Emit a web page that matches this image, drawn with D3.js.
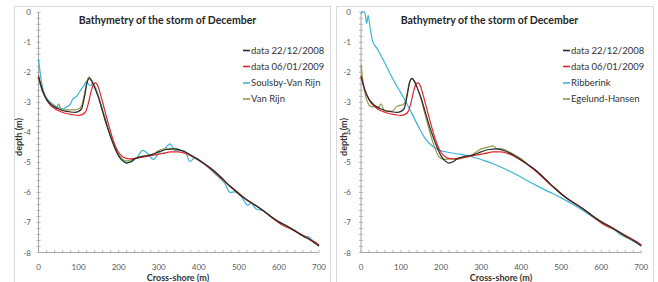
<!DOCTYPE html>
<html>
<head>
<meta charset="utf-8">
<script src="https://cdn.jsdelivr.net/npm/d3@7"></script>
<style>
  body { margin: 0; background: #fff; }
  svg { display: block; font-family: Lato, "Open Sans", sans-serif; }
</style>
</head>
<body>
<svg id="chart" width="658" height="282"></svg>
<script>
// ---- data (cross-shore distance in m, depth in m) ----
var data2212X = [0,10,20,30,40,50,60,70,80,90,100,108,115,122,127,133,140,150,160,170,180,190,200,210,220,230,240,260,280,300,320,340,360,380,400,420,440,460,480,500,520,540,560,580,600,620,640,660,680,700];
var data2212Y = [-2.15,-2.6,-2.9,-3.05,-3.15,-3.22,-3.27,-3.3,-3.32,-3.33,-3.3,-3.2,-2.8,-2.3,-2.2,-2.3,-2.5,-2.85,-3.3,-3.75,-4.15,-4.5,-4.78,-4.95,-5.02,-4.98,-4.88,-4.8,-4.75,-4.65,-4.57,-4.55,-4.62,-4.75,-4.92,-5.1,-5.3,-5.55,-5.82,-6.05,-6.25,-6.42,-6.6,-6.8,-6.98,-7.12,-7.28,-7.45,-7.6,-7.78];

var data0601X = [0,10,20,30,40,50,60,70,80,90,100,110,118,125,132,138,143,148,155,165,175,185,195,205,215,230,250,270,290,310,330,350,370,390,410,430,450,470,490,510,530,550,570,590,610,630,650,670,690,700];
var data0601Y = [-2.1,-2.6,-2.9,-3.1,-3.2,-3.28,-3.33,-3.37,-3.4,-3.42,-3.43,-3.4,-3.3,-3.0,-2.6,-2.38,-2.35,-2.45,-2.75,-3.25,-3.75,-4.2,-4.55,-4.75,-4.85,-4.88,-4.85,-4.8,-4.75,-4.7,-4.65,-4.65,-4.72,-4.85,-5.02,-5.22,-5.45,-5.7,-5.92,-6.15,-6.33,-6.5,-6.7,-6.92,-7.1,-7.22,-7.35,-7.5,-7.65,-7.75];

var soulsbyX = [0,5,10,20,30,40,50,60,70,80,85,95,105,115,120,125,130,135,140,150,160,170,180,190,200,210,220,232,245,260,272,286,300,315,328,340,355,365,378,390,410,430,450,465,478,490,505,523,530,544,560,580,600,620,640,660,673,685,700];
var soulsbyY = [-1.55,-2.1,-2.5,-2.85,-3.0,-3.1,-3.18,-3.22,-3.15,-3.05,-2.9,-2.8,-2.6,-2.4,-2.3,-2.4,-2.45,-2.35,-2.45,-2.8,-3.25,-3.7,-4.1,-4.45,-4.75,-4.92,-5.0,-4.98,-4.85,-4.6,-4.7,-4.9,-4.7,-4.55,-4.38,-4.6,-4.6,-4.62,-4.97,-4.85,-5.0,-5.25,-5.5,-5.7,-6.0,-5.98,-6.12,-6.43,-6.35,-6.56,-6.6,-6.8,-6.98,-7.12,-7.28,-7.45,-7.47,-7.62,-7.78];

var vanRijnX = [0,10,20,30,40,45,50,55,60,70,80,90,100,108,115,122,126,132,140,150,160,170,180,190,200,210,220,230,245,260,280,290,300,315,330,345,360,380,400,420,440,460,480,500,520,540,560,580,600,620,640,660,680,700];
var vanRijnY = [-2.2,-2.65,-2.9,-3.05,-3.15,-3.2,-3.05,-3.2,-3.25,-3.25,-3.25,-3.25,-3.22,-3.1,-2.7,-2.25,-2.15,-2.25,-2.5,-2.85,-3.3,-3.75,-4.15,-4.5,-4.75,-4.9,-4.95,-4.92,-4.85,-4.8,-4.75,-4.7,-4.6,-4.55,-4.55,-4.55,-4.62,-4.78,-4.92,-5.1,-5.32,-5.57,-5.82,-6.02,-6.25,-6.42,-6.6,-6.8,-6.98,-7.12,-7.28,-7.45,-7.6,-7.78];

var ribberinkX = [0,3,8,11,14,18,22,30,40,47,60,72,85,100,114,130,145,160,175,192,220,250,280,310,334,360,390,417,440,470,500,530,560,583,610,630,650,670,690,700];
var ribberinkY = [-0.05,0.02,0.0,-0.1,-0.37,-0.1,-0.45,-1.0,-1.2,-1.37,-1.7,-2.03,-2.35,-2.7,-3.03,-3.45,-3.85,-4.2,-4.42,-4.57,-4.67,-4.73,-4.82,-4.95,-5.07,-5.22,-5.42,-5.62,-5.78,-5.98,-6.18,-6.4,-6.65,-6.85,-7.07,-7.22,-7.42,-7.55,-7.7,-7.78];

var egelundX = [0,5,10,15,20,28,35,42,50,57,64,72,80,88,97,105,112,118,124,128,134,140,150,160,170,180,190,198,210,225,240,255,270,285,300,315,330,340,352,365,380,400,420,440,460,480,500,520,540,560,580,600,620,640,660,680,700];
var egelundY = [-1.75,-2.3,-2.7,-2.95,-3.08,-3.15,-3.12,-3.2,-3.05,-3.25,-3.3,-3.3,-3.28,-3.15,-3.1,-3.08,-2.9,-2.5,-2.25,-2.2,-2.3,-2.5,-2.9,-3.4,-3.9,-4.35,-4.7,-4.85,-4.9,-4.88,-4.9,-4.85,-4.8,-4.68,-4.55,-4.5,-4.45,-4.55,-4.55,-4.62,-4.72,-4.88,-5.1,-5.3,-5.55,-5.8,-6.05,-6.25,-6.42,-6.6,-6.78,-6.97,-7.12,-7.28,-7.47,-7.6,-7.78];

var xTicks = [0,100,200,300,400,500,600,700];
var yTicks = [0,-1,-2,-3,-4,-5,-6,-7,-8];

var colBlack = "#2a2a2a", colRed = "#e0262c", colCyan = "#3bb5d9", colOlive = "#8f9a4a";

function zipXY(xs, ys) { return xs.map(function(x, i) { return [x, ys[i]]; }); }

var panels = [
  { box: [14.5, 6.5, 316], plot: [38.5, 319], titleX: 167.5, xLabX: 178, yLabX: 19, legX: 243, labEnd: 31,
    series: [
      { name: "data 22/12/2008", pts: zipXY(data2212X, data2212Y), color: colBlack },
      { name: "data 06/01/2009", pts: zipXY(data0601X, data0601Y), color: colRed },
      { name: "Soulsby-Van Rijn", pts: zipXY(soulsbyX, soulsbyY), color: colCyan },
      { name: "Van Rijn", pts: zipXY(vanRijnX, vanRijnY), color: colOlive }
    ] },
  { box: [336.5, 6.5, 317], plot: [361, 641.3], titleX: 489.5, xLabX: 501, yLabX: 343.5, legX: 563, labEnd: 351,
    series: [
      { name: "data 22/12/2008", pts: zipXY(data2212X, data2212Y), color: colBlack },
      { name: "data 06/01/2009", pts: zipXY(data0601X, data0601Y), color: colRed },
      { name: "Ribberink", pts: zipXY(ribberinkX, ribberinkY), color: colCyan },
      { name: "Egelund-Hansen", pts: zipXY(egelundX, egelundY), color: colOlive }
    ] }
];

var svg = d3.select("#chart");
var legendRows = [50.5, 66.5, 83, 99];

panels.forEach(function(p) {
  var g = svg.append("g");

  // frame (no bottom edge visible in the picture)
  g.append("rect")
    .attr("x", p.box[0]).attr("y", p.box[1])
    .attr("width", p.box[2]).attr("height", 300)
    .attr("fill", "none").attr("stroke", "#d9d9d9").attr("stroke-width", 1);

  var x = d3.scaleLinear().domain([0, 700]).range(p.plot);
  var y = d3.scaleLinear().domain([0, -8]).range([12.3, 252.5]);

  // y axis: line + minor ticks every 0.2
  g.append("line")
    .attr("x1", p.plot[0]).attr("x2", p.plot[0])
    .attr("y1", y(0)).attr("y2", y(-8))
    .attr("stroke", "#a6a6a6");
  g.selectAll(".ymin").data(d3.range(0, 41)).enter().append("line")
    .attr("x1", p.plot[0] - 2).attr("x2", p.plot[0] + 2)
    .attr("y1", function(d) { return y(-d * 0.2); })
    .attr("y2", function(d) { return y(-d * 0.2); })
    .attr("stroke", "#a6a6a6").attr("stroke-width", 0.8);
  g.selectAll(".ylab").data(yTicks).enter().append("text")
    .attr("x", p.labEnd).attr("y", function(d) { return y(d) + 3; })
    .attr("text-anchor", "end").attr("font-size", 8).attr("fill", "#595959")
    .text(function(d) { return d === 0 ? "0" : "-" + Math.abs(d); });

  // x axis: line + minor ticks every 20 m
  g.append("line")
    .attr("x1", p.plot[0]).attr("x2", p.plot[1])
    .attr("y1", y(-8)).attr("y2", y(-8))
    .attr("stroke", "#a6a6a6");
  g.selectAll(".xmin").data(d3.range(0, 36)).enter().append("line")
    .attr("x1", function(d) { return x(d * 20); })
    .attr("x2", function(d) { return x(d * 20); })
    .attr("y1", y(-8)).attr("y2", y(-8) - 2.5)
    .attr("stroke", "#a6a6a6").attr("stroke-width", 0.8);
  g.selectAll(".xlab").data(xTicks).enter().append("text")
    .attr("x", function(d) { return x(d); }).attr("y", 270)
    .attr("text-anchor", "middle").attr("font-size", 8).attr("fill", "#595959")
    .text(function(d) { return d; });

  // titles
  g.append("text").attr("x", p.titleX).attr("y", 24)
    .attr("text-anchor", "middle").attr("font-size", 10.5).attr("font-weight", "bold").attr("fill", "#262626")
    .text("Bathymetry of the storm of December");
  g.append("text").attr("x", p.xLabX).attr("y", 280.5)
    .attr("text-anchor", "middle").attr("font-size", 9).attr("font-weight", "bold").attr("fill", "#333")
    .text("Cross-shore (m)");
  g.append("text")
    .attr("transform", "translate(" + (p.yLabX + 3) + ",137) rotate(-90)")
    .attr("text-anchor", "middle").attr("font-size", 9).attr("font-weight", "bold").attr("fill", "#333")
    .text("depth (m)");

  // lines (draw cyan/olive then data on top)
  var line = d3.line()
    .x(function(d) { return x(d[0]); })
    .y(function(d) { return y(d[1]); })
    .curve(d3.curveMonotoneX);
  var order = [2, 3, 1, 0];
  order.forEach(function(i) {
    var s = p.series[i];
    g.append("path").datum(s.pts)
      .attr("d", line)
      .attr("fill", "none").attr("stroke", s.color).attr("stroke-width", 1.2);
  });

  // legend
  p.series.forEach(function(s, i) {
    var ly = legendRows[i];
    g.append("line")
      .attr("x1", p.legX).attr("x2", p.legX + 7)
      .attr("y1", ly).attr("y2", ly)
      .attr("stroke", s.color).attr("stroke-width", 1.6);
    g.append("text")
      .attr("x", p.legX + 8).attr("y", ly + 3.3)
      .attr("font-size", 9.5).attr("fill", "#333")
      .text(s.name);
  });
});
</script>
</body>
</html>
